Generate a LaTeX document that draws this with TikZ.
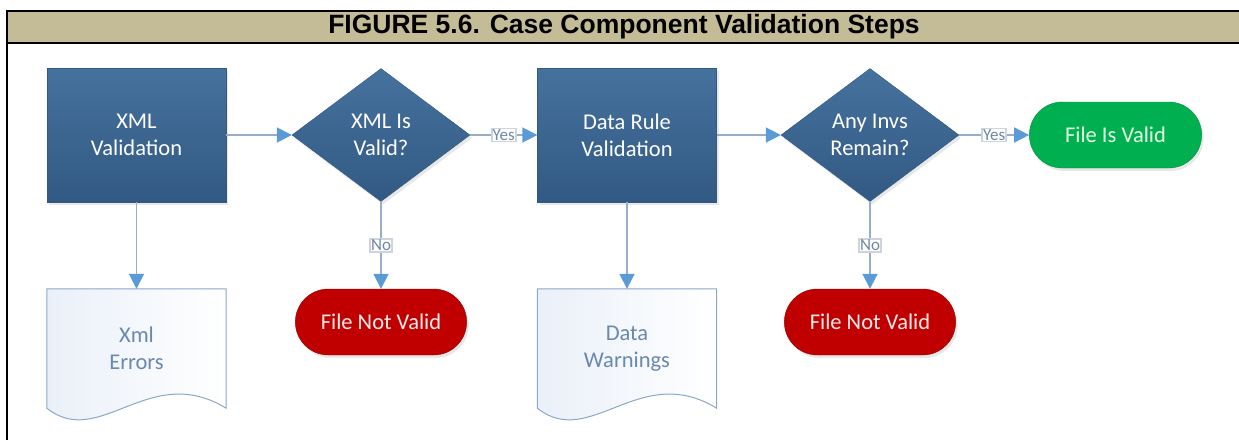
\documentclass[tikz,border=0pt]{standalone}
\usepackage{fontspec}
\setmainfont{Carlito}
\newfontfamily\titlefont{Liberation Sans}
\usetikzlibrary{shapes.geometric,shapes.misc,arrows.meta,shadows,backgrounds}

\definecolor{headtan}{RGB}{196,188,151}
\definecolor{boxtop}{RGB}{69,114,157}
\definecolor{boxbot}{RGB}{50,89,131}
\definecolor{linegray}{RGB}{150,174,200}
\definecolor{arrowblue}{RGB}{91,155,213}
\definecolor{lblgray}{RGB}{205,212,222}
\definecolor{lbltext}{RGB}{110,135,165}
\definecolor{docfill}{RGB}{234,240,249}
\definecolor{docline}{RGB}{140,168,200}
\definecolor{doctext}{RGB}{105,137,175}
\definecolor{nored}{RGB}{192,0,0}
\definecolor{okgreen}{RGB}{0,176,80}

\begin{document}
\begin{tikzpicture}[x=1pt,y=-1pt,
    frame/.style={line width=2.7pt},
    titletext/.style={font=\titlefont\bfseries\fontsize{26.5}{30}\selectfont},
    boxtxt/.style={align=center, font=\fontsize{22.5}{27}\selectfont},
    stepbox/.style={boxtxt, rectangle, minimum width=179pt, minimum height=134pt,
      top color=boxtop, bottom color=boxbot, draw=boxbot, text=white,
      drop shadow={shadow xshift=2pt, shadow yshift=-3pt, opacity=0.18}},
    decide/.style={boxtxt, diamond, inner sep=0pt, minimum width=178pt, minimum height=133pt,
      top color=boxtop, bottom color=boxbot, draw=boxbot, text=white,
      drop shadow={shadow xshift=2pt, shadow yshift=-3pt, opacity=0.18}},
    endbad/.style={boxtxt, rounded rectangle, minimum width=178pt, minimum height=66pt,
      fill=nored, draw=nored!75!black, text=red!8,
      drop shadow={shadow xshift=2pt, shadow yshift=-3pt, opacity=0.18}},
    endgood/.style={boxtxt, rounded rectangle, minimum width=179pt, minimum height=66pt,
      fill=okgreen, draw=okgreen!80!black, text=green!10,
      drop shadow={shadow xshift=2pt, shadow yshift=-3pt, opacity=0.18}},
    docbox/.style={boxtxt, rectangle, minimum width=179pt, minimum height=119pt, text=doctext},
    docedge/.style={draw=docline, line width=1pt, left color=docfill, right color=white},
    conn/.style={draw=linegray, line width=1.8pt,
      -{Triangle[length=15pt,width=15pt,color=arrowblue]}},
    lbl/.style={fill=white, draw=lblgray, text=lbltext, inner sep=1pt,
      font=\fontsize{17}{17}\selectfont}]

      \useasboundingbox (0,0) rectangle (1239,440);

      % header and frame
      \fill [headtan] (7,11) rectangle (1239,43);
      \draw [frame] (7,440) -- (7,11) -- (1239,11);
      \draw [frame] (7,43) -- (1239,43);
      \node (title) [titletext] at (624,27) {FIGURE 5.6. Case Component Validation Steps};

      % top row
      \node (xmlval)  [stepbox] at (136.5,135)  {XML\\Validation};
      \node (xmlok)   [decide]  at (381,135)    {XML Is\\Valid?};
      \node (rulechk) [stepbox] at (627,135)    {Data Rule\\Validation};
      \node (invsok)  [decide]  at (870,135)    {Any Invs\\Remain?};
      \node (fileok)  [endgood] at (1115.5,135) {File Is Valid};

      % bottom row
      \node (xmlerr)   [docbox] at (136.5,348.5) {Xml\\Errors};
      \node (notok1)   [endbad] at (381,322)     {File Not Valid};
      \node (datawarn) [docbox] at (627,348.5)   {Data\\Warnings};
      \node (notok2)   [endbad] at (870,322)     {File Not Valid};

      % document outlines
      \begin{scope}[on background layer]
        \foreach \d in {xmlerr,datawarn}
          \draw [docedge] (\d.south west) -- (\d.north west) -- (\d.north east) -- (\d.south east)
                .. controls +(-77,-47) and +(53,42) .. (\d.south west) -- cycle;
      \end{scope}

      % connectors
      \path (xmlval.east)  edge [conn] (xmlok.west);
      \path (xmlok.east)   edge [conn] node[lbl, midway] {Yes} (rulechk.west);
      \path (rulechk.east) edge [conn] (invsok.west);
      \path (invsok.east)  edge [conn] node[lbl, midway] {Yes} (fileok.west);

      \path (xmlval.south)  edge [conn] (xmlerr.north);
      \path (xmlok.south)   edge [conn] node[lbl, midway] {No} (notok1.north);
      \path (rulechk.south) edge [conn] (datawarn.north);
      \path (invsok.south)  edge [conn] node[lbl, midway] {No} (notok2.north);
\end{tikzpicture}
\end{document}
